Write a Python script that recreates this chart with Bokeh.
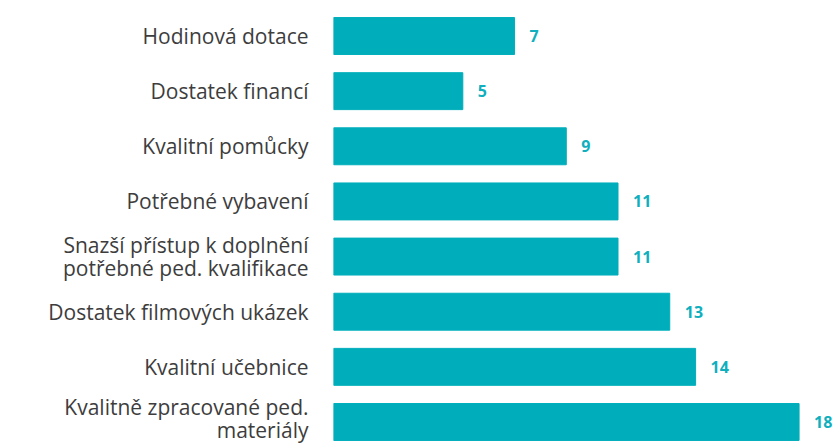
from bokeh.plotting import figure
from bokeh.models import Range1d, FixedTicker, ColumnDataSource, LabelSet
from bokeh.core.properties import value
from bokeh.embed import file_html
from bokeh.resources import INLINE

categories = [
    "Hodinová dotace",
    "Dostatek financí",
    "Kvalitní pomůcky",
    "Potřebné vybavení",
    "Snazší přístup k doplnění\npotřebné ped. kvalifikace",
    "Dostatek filmových ukázek",
    "Kvalitní učebnice",
    "Kvalitně zpracované ped.\nmateriály",
]
values = [7, 5, 9, 11, 11, 13, 14, 18]

BAR = "#00AEBB"
positions = list(range(len(categories)))

src = ColumnDataSource(dict(
    y=positions,
    v=values,
    lbl=[str(v) for v in values],
))

p = figure(width=834, height=443, output_backend="svg", toolbar_location=None,
           x_range=Range1d(0, 19.37), y_range=Range1d(7.39, -0.644),
           min_border_left=333, min_border_right=0, min_border_top=0, min_border_bottom=0)

p.hbar(y="y", right="v", left=0, height=0.67, source=src, color=BAR)

labels = LabelSet(x="v", y="y", text="lbl", source=src, x_offset=15, y_offset=0,
                  text_baseline="middle", text_align="left",
                  text_font=value("Open Sans"), text_font_style="bold",
                  text_font_size=value("16px"), text_color="#10AFBE")
p.add_layout(labels)

p.xaxis.visible = False
yax = p.yaxis[0]
yax.ticker = FixedTicker(ticks=positions)
yax.major_label_overrides = {i: c for i, c in enumerate(categories)}
yax.axis_line_color = None
yax.major_tick_line_color = None
yax.minor_tick_line_color = None
yax.major_tick_out = 0
yax.major_tick_in = 0
yax.major_label_standoff = 25
yax.major_label_text_font = "Open Sans"
yax.major_label_text_font_size = "21px"
yax.major_label_text_line_height = 0.82
yax.major_label_text_color = "#3d3d3d"
yax.major_label_text_align = "right"

p.grid.visible = False
p.outline_line_color = None
p.background_fill_color = "white"
p.border_fill_color = "white"

open("out.html", "w").write(file_html(p, INLINE))
